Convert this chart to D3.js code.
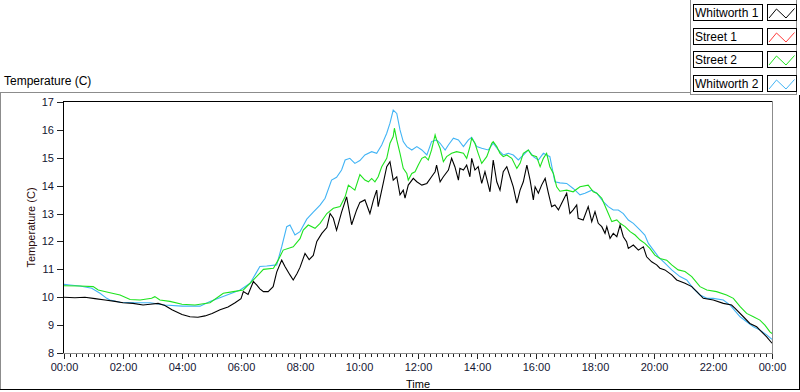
<!DOCTYPE html>
<html><head><meta charset="utf-8">
<script src="https://cdn.jsdelivr.net/npm/d3@7"></script>
<style>
html,body{margin:0;padding:0;background:#fff;}
svg{display:block;font-family:"Liberation Sans",Arial,sans-serif;}
</style></head>
<body>
<svg id="chart" width="800" height="392"></svg>
<script>
// ---------- DATA ----------
const seriesNames = ["Whitworth 1", "Street 1", "Street 2", "Whitworth 2"];
const yTickValues = [8, 9, 10, 11, 12, 13, 14, 15, 16, 17];
const xTickHours = [0, 2, 4, 6, 8, 10, 12, 14, 16, 18, 20, 22, 24];
const xTickLabels = ["00:00","02:00","04:00","06:00","08:00","10:00","12:00","14:00","16:00","18:00","20:00","22:00","00:00"];

// Whitworth 1 (black)
const w1Hours = [0,0.37,0.71,1.05,1.39,1.73,2.0,2.34,2.68,2.92,3.19,3.42,3.66,4.0,4.27,4.54,4.78,5.02,5.29,5.56,5.8,6.0,6.08,6.24,6.42,6.53,6.64,6.76,6.92,7.09,7.21,7.38,7.49,7.66,7.77,7.9,8.0,8.17,8.31,8.45,8.57,8.74,8.91,9.02,9.13,9.24,9.41,9.58,9.75,9.92,10.03,10.2,10.37,10.49,10.6,10.65,10.82,10.94,11.05,11.16,11.28,11.39,11.5,11.56,11.67,11.84,11.96,12.13,12.3,12.46,12.58,12.63,12.75,12.86,13.03,13.14,13.25,13.37,13.42,13.54,13.65,13.76,13.82,13.93,14.04,14.16,14.27,14.44,14.55,14.67,14.78,14.89,15.01,15.12,15.23,15.35,15.46,15.57,15.69,15.8,15.91,15.97,16.08,16.19,16.31,16.42,16.53,16.64,16.76,16.87,17.04,17.15,17.26,17.38,17.43,17.6,17.77,17.89,18.0,18.11,18.23,18.34,18.4,18.51,18.62,18.74,18.85,18.96,19.07,19.13,19.3,19.47,19.64,19.75,19.92,20.09,20.2,20.37,20.6,20.77,21.05,21.28,21.45,21.67,22.01,22.35,22.63,22.75,23.03,23.25,23.48,23.65,23.82,24.0];
const w1Temps = [10.0,9.98,10.0,9.95,9.9,9.85,9.8,9.78,9.72,9.75,9.78,9.7,9.55,9.38,9.3,9.28,9.33,9.42,9.55,9.65,9.8,9.95,10.2,10.1,10.56,10.44,10.3,10.2,10.2,10.38,10.9,11.33,11.1,10.8,10.62,10.85,11.07,11.57,11.35,11.5,12.0,12.29,12.5,13.0,12.83,12.4,13.05,13.6,12.6,13.13,13.4,13.49,13.0,13.49,13.84,13.25,14.08,14.68,14.86,14.2,14.32,13.67,13.84,13.55,14.02,14.26,14.14,14.02,14.08,14.32,14.5,14.74,14.14,14.32,14.56,14.98,14.68,14.2,14.62,14.56,14.74,14.32,14.98,14.56,14.68,14.08,14.5,13.78,14.92,14.14,13.84,14.5,14.68,14.32,13.96,13.37,13.84,14.14,14.74,14.2,13.49,13.96,13.73,14.02,14.26,13.73,13.25,13.31,13.13,13.37,13.73,13.0,13.13,13.31,12.83,12.77,13.25,12.71,13.07,12.65,12.53,12.29,12.53,12.11,12.29,12.17,12.59,12.17,11.99,11.75,11.87,11.69,11.81,11.45,11.27,11.16,11.04,10.98,10.8,10.62,10.5,10.38,10.2,9.96,9.9,9.78,9.72,9.6,9.3,9.06,8.94,8.76,8.58,8.35];

// Street 1 (red) - no visible trace in the reference
const s1Hours = [];
const s1Temps = [];

// Street 2 (green)
const s2Hours = [0,0.54,0.99,1.16,1.56,1.9,2.24,2.58,2.97,3.08,3.25,3.59,4.0,4.44,4.95,5.4,5.74,6.08,6.36,6.64,6.76,7.1,7.26,7.43,7.77,8.0,8.11,8.28,8.51,8.68,8.91,9.13,9.36,9.53,9.64,9.86,10.03,10.2,10.32,10.43,10.54,10.65,10.77,10.94,11.05,11.16,11.2,11.28,11.39,11.5,11.62,11.67,11.79,11.9,12.01,12.13,12.24,12.35,12.46,12.58,12.63,12.75,12.86,12.97,13.14,13.31,13.54,13.65,13.76,13.82,13.93,14.04,14.16,14.33,14.5,14.55,14.67,14.78,14.89,15.01,15.18,15.35,15.46,15.57,15.74,15.85,16.02,16.14,16.25,16.36,16.47,16.59,16.7,16.81,17.04,17.26,17.49,17.77,17.94,18.06,18.23,18.4,18.57,18.74,18.85,19.02,19.19,19.36,19.53,19.69,19.86,20.03,20.2,20.43,20.6,20.82,21.05,21.28,21.56,21.79,22.12,22.46,22.69,22.92,23.14,23.37,23.59,23.76,23.93,24.0];
const s2Temps = [10.41,10.4,10.38,10.26,10.16,10.08,9.92,9.9,9.96,10.02,9.9,9.85,9.75,9.72,9.8,10.14,10.2,10.26,10.56,10.86,11.0,11.04,11.33,11.69,11.81,12.1,12.41,12.59,12.47,12.65,13.0,13.19,13.25,13.6,14.02,13.84,14.4,14.2,14.14,14.26,14.14,14.32,14.68,14.98,15.52,15.76,16.06,15.64,15.16,14.62,14.44,14.2,14.44,14.5,14.74,14.98,15.04,14.92,15.28,15.82,15.64,15.34,14.86,15.04,15.16,15.22,15.16,14.98,15.4,15.7,15.52,15.16,14.8,15.04,15.52,15.58,15.4,15.16,15.04,15.1,14.98,14.62,14.8,15.16,15.28,15.1,15.04,14.68,14.98,15.16,14.68,14.44,13.96,13.8,13.84,13.78,13.96,14.02,13.78,13.73,13.55,13.13,12.71,12.77,12.65,12.53,12.35,12.23,12.05,11.93,11.75,11.51,11.39,11.33,11.16,10.98,10.92,10.74,10.38,10.26,10.2,10.08,9.96,9.66,9.42,9.3,9.18,9.0,8.76,8.7];

// Whitworth 2 (light blue)
const w2Hours = [0,0.2,0.54,0.94,1.22,1.45,1.56,1.9,2.41,2.92,3.42,4.0,4.61,4.95,5.46,5.97,6.31,6.53,6.64,6.87,7.21,7.38,7.55,7.66,7.83,8.0,8.23,8.45,8.68,8.85,9.07,9.24,9.41,9.53,9.69,9.86,10.03,10.2,10.43,10.6,10.77,10.94,11.05,11.16,11.28,11.39,11.5,11.62,11.79,11.96,12.13,12.3,12.46,12.63,12.75,12.92,13.03,13.2,13.37,13.54,13.71,13.82,13.99,14.16,14.38,14.55,14.72,14.89,15.06,15.23,15.4,15.57,15.74,15.91,16.08,16.25,16.47,16.64,16.81,17.04,17.26,17.49,17.66,17.89,18.06,18.28,18.45,18.62,18.79,18.96,19.13,19.3,19.53,19.69,19.81,19.98,20.15,20.37,20.6,20.88,21.11,21.33,21.56,21.79,22.01,22.35,22.58,22.92,23.14,23.37,23.59,23.82,24.0];
const w2Temps = [10.46,10.44,10.4,10.32,10.14,9.96,9.9,9.82,9.8,9.8,9.72,9.68,9.68,9.85,10.05,10.26,10.5,10.9,11.1,11.12,11.16,11.81,12.53,12.59,12.23,12.35,12.8,13.05,13.3,13.55,14.2,14.3,14.56,14.92,14.98,14.8,14.9,15.1,15.22,15.16,15.46,15.88,16.24,16.71,16.59,16.0,15.58,15.4,15.28,15.4,15.28,15.1,15.58,15.64,15.52,15.28,15.46,15.7,15.64,15.4,15.64,15.73,15.4,15.34,15.28,15.52,15.28,15.1,15.16,15.1,14.92,15.1,15.28,15.04,14.92,15.16,15.04,14.14,14.1,14.08,13.9,13.67,13.73,13.84,13.73,13.43,13.25,13.13,13.13,13.0,12.77,12.65,12.41,12.23,11.93,11.69,11.45,11.22,10.98,10.74,10.62,10.32,10.08,9.96,9.96,9.9,9.72,9.3,9.12,8.94,8.82,8.65,8.49];

// ---------- DRAW ----------
const series = [
  {name: seriesNames[0], hours: w1Hours, temps: w1Temps, color: "#000000"},
  {name: seriesNames[1], hours: s1Hours, temps: s1Temps, color: "#ff3c3c"},
  {name: seriesNames[2], hours: s2Hours, temps: s2Temps, color: "#1ee31e"},
  {name: seriesNames[3], hours: w2Hours, temps: w2Temps, color: "#42b4f5"}
];

const svg = d3.select("#chart");
const L = 64, R = 772, T = 102, B = 353;
const x = d3.scaleLinear().domain([0, 24]).range([L, R]);
const y = d3.scaleLinear().domain([8, 17]).range([B, T]);

// outer frame (sunken style)
const frame = svg.append("g").attr("shape-rendering", "crispEdges");
frame.append("line").attr("x1", 0).attr("x2", 690).attr("y1", 92.5).attr("y2", 92.5).attr("stroke", "#8c8c8c");
frame.append("line").attr("x1", 0.5).attr("x2", 0.5).attr("y1", 92).attr("y2", 390).attr("stroke", "#8c8c8c");
frame.append("line").attr("x1", 690.5).attr("x2", 690.5).attr("y1", 0).attr("y2", 95).attr("stroke", "#8c8c8c");
frame.append("line").attr("x1", 690).attr("x2", 797).attr("y1", 94.5).attr("y2", 94.5).attr("stroke", "#8c8c8c");
frame.append("line").attr("x1", 796.5).attr("x2", 796.5).attr("y1", 0).attr("y2", 95).attr("stroke", "#8c8c8c");
frame.append("line").attr("x1", 799.5).attr("x2", 799.5).attr("y1", 95).attr("y2", 390).attr("stroke", "#000");
frame.append("line").attr("x1", 0).attr("x2", 800).attr("y1", 389.5).attr("y2", 389.5).attr("stroke", "#000");

// title
svg.append("text").attr("x", 4).attr("y", 85).attr("font-size", 12).attr("fill", "#000").text("Temperature (C)");

// plot area
const plotFrame = svg.append("g").attr("shape-rendering", "crispEdges");
plotFrame.append("rect").attr("x", L).attr("y", T).attr("width", R - L).attr("height", B - T).attr("fill", "#fff");

// x axis minor ticks
const minorTicks = d3.range(0, 24.001, 0.2).filter(h => Math.abs(h / 2 - Math.round(h / 2)) > 0.01);
svg.append("g").attr("transform", `translate(0,${B + 1})`)
  .attr("shape-rendering", "crispEdges")
  .call(d3.axisBottom(x).tickValues(minorTicks).tickSize(3).tickFormat(""))
  .call(g => g.select(".domain").remove())
  .call(g => g.selectAll("line").attr("stroke", "#222"));

// x axis major ticks + labels
svg.append("g").attr("transform", `translate(0,${B + 1})`)
  .attr("shape-rendering", "crispEdges")
  .call(d3.axisBottom(x).tickValues(xTickHours).tickSize(5).tickPadding(4)
    .tickFormat((d, i) => xTickLabels[i]))
  .call(g => g.select(".domain").remove())
  .call(g => g.selectAll("line").attr("stroke", "#222"))
  .call(g => g.selectAll("text").attr("font-size", 11).attr("fill", "#141432")
    .attr("font-family", "Liberation Sans, Arial, sans-serif"));

// y axis
svg.append("g").attr("transform", `translate(${L - 1},0)`)
  .attr("shape-rendering", "crispEdges")
  .call(d3.axisLeft(y).tickValues(yTickValues).tickSize(6).tickPadding(3).tickFormat(d3.format("d")))
  .call(g => g.select(".domain").remove())
  .call(g => g.selectAll("line").attr("stroke", "#222"))
  .call(g => g.selectAll("text").attr("font-size", 11).attr("fill", "#141432")
    .attr("font-family", "Liberation Sans, Arial, sans-serif"));

// axis titles
svg.append("text").attr("x", (L + R) / 2).attr("y", 388).attr("text-anchor", "middle")
  .attr("font-size", 11).attr("fill", "#000").text("Time");
svg.append("text").attr("transform", `translate(35,${(T + B) / 2}) rotate(-90)`)
  .attr("text-anchor", "middle").attr("font-size", 11).attr("fill", "#2a0a0a").text("Temperature (C)");

// lines
const clip = svg.append("clipPath").attr("id", "plotclip").append("rect")
  .attr("x", L).attr("y", T).attr("width", R - L + 1).attr("height", B - T + 1);
const line = d3.line().x(d => x(d[0])).y(d => y(d[1]));
const drawOrder = [3, 2, 1, 0];
const linesG = svg.append("g").attr("clip-path", "url(#plotclip)");
drawOrder.forEach(i => {
  const s = series[i];
  const pts = s.hours.map((h, k) => [h, s.temps[k]]);
  linesG.append("path").datum(pts).attr("d", pts.length ? line(pts) : null)
    .attr("fill", "none").attr("stroke", s.color).attr("stroke-width", 1.1)
    .attr("stroke-linejoin", "miter");
});

// plot borders
plotFrame.raise();
plotFrame.select("rect").attr("fill", "none");
plotFrame.append("line").attr("x1", L - 1).attr("x2", R + 1).attr("y1", T - 0.5).attr("y2", T - 0.5).attr("stroke", "#000");
plotFrame.append("line").attr("x1", L - 0.5).attr("x2", L - 0.5).attr("y1", T - 1).attr("y2", B + 1).attr("stroke", "#000");
plotFrame.append("line").attr("x1", R + 0.5).attr("x2", R + 0.5).attr("y1", T - 1).attr("y2", B + 1).attr("stroke", "#8c8c8c");
plotFrame.append("line").attr("x1", L - 1).attr("x2", R + 1).attr("y1", B + 0.5).attr("y2", B + 0.5).attr("stroke", "#8c8c8c");

// legend
const legend = svg.append("g");
series.forEach((s, i) => {
  const top = Math.round(4 + i * 23.7);
  const g = legend.append("g").attr("transform", `translate(0,${top})`);
  g.append("rect").attr("x", 693.5).attr("y", 0.5).attr("width", 69).attr("height", 16)
    .attr("fill", "#fff").attr("stroke", "#000").attr("shape-rendering", "crispEdges");
  g.append("text").attr("x", 695).attr("y", 13).attr("font-size", 12).attr("fill", "#000").text(s.name);
  g.append("rect").attr("x", 767.5).attr("y", 0.5).attr("width", 29).attr("height", 16)
    .attr("fill", "#fff").attr("stroke", "#000").attr("shape-rendering", "crispEdges");
  g.append("path").attr("d", "M769,14 L776.5,5 L786,14 L794.5,4.5")
    .attr("fill", "none").attr("stroke", s.color).attr("stroke-width", 1);
});
</script>
</body></html>
